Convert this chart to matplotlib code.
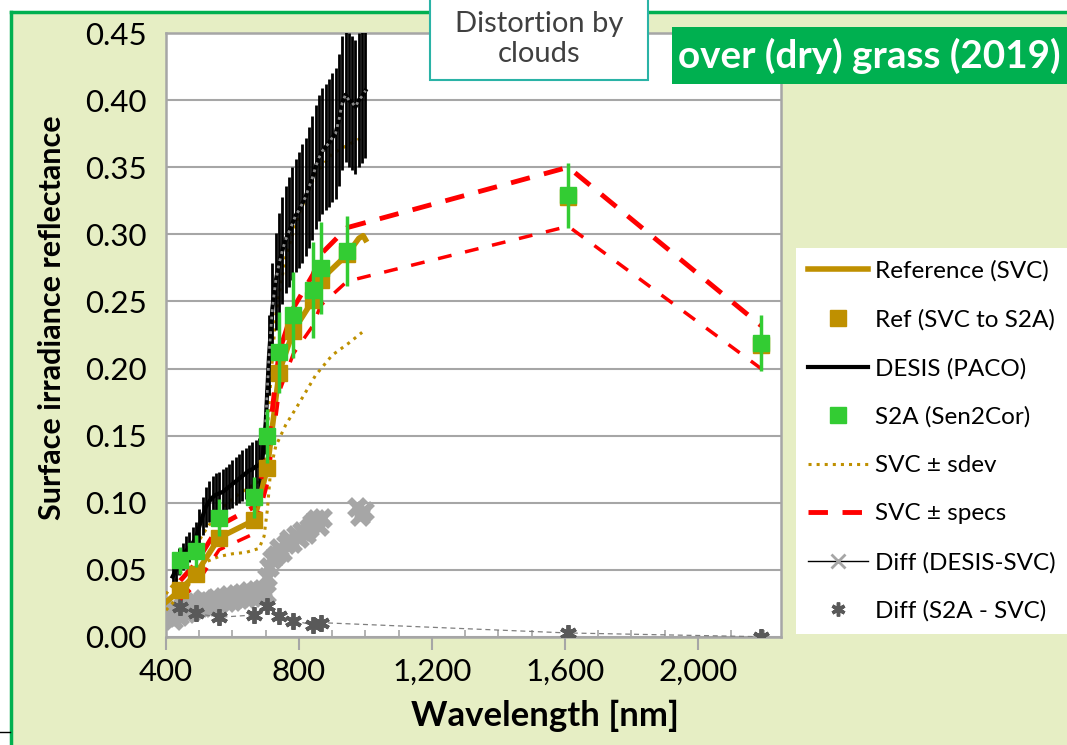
import matplotlib
matplotlib.use('Agg')
import matplotlib.pyplot as plt
from matplotlib.lines import Line2D
from matplotlib.patches import Rectangle
from matplotlib.ticker import MultipleLocator, FuncFormatter

plt.rcParams['font.family'] = ['Lato', 'DejaVu Sans']

# SVC reference spectrum (field measurement)
svc_wl = [400, 443, 490, 560, 665, 705, 740, 783, 842, 865, 945, 980, 993, 1000]
svc_refl = [0.026, 0.035, 0.047, 0.074, 0.087, 0.126, 0.197, 0.228, 0.251, 0.266, 0.285, 0.297, 0.299, 0.296]

# SVC +/- standard deviation
sdev_wl = [400, 430, 460, 490, 520, 560, 600, 640, 680, 695, 705, 715, 730, 760, 800, 850, 900, 950, 990]
sdev_hi = [0.032, 0.042, 0.055, 0.068, 0.080, 0.094, 0.103, 0.110, 0.116, 0.130, 0.155, 0.190, 0.240, 0.283, 0.315, 0.345, 0.360, 0.367, 0.372]
sdev_lo = [0.020, 0.028, 0.036, 0.046, 0.056, 0.060, 0.062, 0.063, 0.066, 0.075, 0.095, 0.125, 0.142, 0.158, 0.174, 0.195, 0.210, 0.219, 0.227]

# Sentinel-2A bands
s2a_wl = [443, 490, 560, 665, 705, 740, 783, 842, 865, 945, 1610, 2190]
ref_s2a = [0.035, 0.047, 0.074, 0.087, 0.126, 0.197, 0.228, 0.251, 0.266, 0.285, 0.328, 0.2175]
s2a_refl = [0.057, 0.064, 0.089, 0.104, 0.150, 0.212, 0.240, 0.2585, 0.275, 0.2875, 0.329, 0.219]
s2a_err = [0.010, 0.012, 0.014, 0.015, 0.020, 0.030, 0.032, 0.036, 0.034, 0.026, 0.024, 0.021]
spec_hi = [0.042, 0.055, 0.083, 0.097, 0.138, 0.212, 0.245, 0.270, 0.285, 0.305, 0.350, 0.232]
spec_lo = [0.028, 0.039, 0.065, 0.077, 0.114, 0.182, 0.211, 0.232, 0.247, 0.265, 0.306, 0.200]

diff_s2a_wl = [443, 490, 560, 665, 705, 740, 783, 842, 865, 1610, 2190]
diff_s2a = [0.0226, 0.0176, 0.0147, 0.0164, 0.0231, 0.0156, 0.0122, 0.0090, 0.0107, 0.0030, 0.0002]

# DESIS (PACO), binned to 10 nm
desis_wl = [420, 430, 440, 450, 460, 470, 480, 490, 500, 510, 520, 530, 540, 550, 560,
            570, 580, 590, 600, 610, 620, 630, 640, 650, 660, 670, 680, 690, 700, 710,
            720, 730, 740, 750, 760, 770, 780, 790, 800, 810, 820, 830, 840, 850, 860,
            870, 880, 890, 900, 910, 920, 930, 940, 950, 960, 970, 980, 990, 1000]
desis_refl = [0.045, 0.050, 0.056, 0.060, 0.064, 0.067, 0.070, 0.074, 0.082, 0.090, 0.097, 0.101, 0.104, 0.106, 0.107,
              0.108, 0.110, 0.112, 0.114, 0.116, 0.118, 0.120, 0.122, 0.124, 0.125, 0.127, 0.128, 0.132, 0.160, 0.210,
              0.245, 0.265, 0.278, 0.288, 0.296, 0.302, 0.308, 0.314, 0.318, 0.323, 0.328, 0.335, 0.342, 0.350, 0.357,
              0.362, 0.365, 0.368, 0.372, 0.375, 0.385, 0.398, 0.404, 0.400, 0.398, 0.395, 0.400, 0.403, 0.407]
desis_err = [0.008, 0.009, 0.010, 0.010, 0.011, 0.011, 0.012, 0.012, 0.013, 0.014, 0.015, 0.015, 0.016, 0.016, 0.016,
             0.017, 0.017, 0.017, 0.018, 0.018, 0.018, 0.019, 0.019, 0.019, 0.020, 0.020, 0.020, 0.021, 0.024, 0.030,
             0.034, 0.036, 0.038, 0.040, 0.040, 0.041, 0.042, 0.042, 0.043, 0.044, 0.044, 0.045, 0.046, 0.046, 0.047,
             0.047, 0.047, 0.048, 0.048, 0.049, 0.049, 0.050, 0.050, 0.050, 0.050, 0.050, 0.050, 0.050, 0.050]

# |DESIS - SVC|
diff_desis_wl = [400, 410, 420, 430, 440, 450, 460, 470, 480, 490, 500, 510, 520, 530, 540, 550,
                 560, 570, 580, 590, 600, 610, 620, 630, 640, 650, 660, 670, 680, 690, 700,
                 705, 710, 720, 730, 740, 750, 760, 770, 780, 790, 800, 810, 820, 830, 840, 850,
                 860, 870, 975, 985, 995]
diff_desis = [0.015, 0.019, 0.013, 0.021, 0.016, 0.023, 0.018, 0.025, 0.020, 0.026, 0.022, 0.028, 0.023, 0.027, 0.022, 0.029,
              0.025, 0.030, 0.026, 0.031, 0.027, 0.032, 0.028, 0.033, 0.029, 0.034, 0.030, 0.035, 0.031, 0.036, 0.032,
              0.045, 0.052, 0.058, 0.061, 0.066, 0.063, 0.069, 0.073, 0.070, 0.076, 0.074, 0.079, 0.077, 0.081, 0.085, 0.088,
              0.083, 0.089, 0.097, 0.090, 0.094]

gold = '#BF9000'
green = '#33CC33'
bg = '#E6EEC4'

fig = plt.figure(figsize=(10.67, 7.45), dpi=100, facecolor='white')
W, H = 1067, 745

def fx(px):
    return px / W

def fy(py):
    return 1 - py / H

fig.patches.append(Rectangle((fx(11), 0), 1, fy(12), transform=fig.transFigure, fc=bg, ec='none', zorder=-10))
fig.add_artist(Line2D([fx(11), fx(11)], [0, fy(12)], color='#00B050', lw=2.5, zorder=-5))
fig.add_artist(Line2D([fx(11), 1], [fy(12), fy(12)], color='#00B050', lw=2.5, zorder=-5))
fig.add_artist(Line2D([0, fx(10)], [fy(732), fy(732)], color='black', lw=1))

ax = fig.add_axes([fx(166), fy(637), fx(781 - 166), (637 - 33) / H])
ax.set_facecolor('white')

ax.plot(diff_desis_wl, diff_desis, ls='none', marker='x', ms=12, mew=5, color='#A6A6A6', zorder=2)
ax.plot(diff_s2a_wl, diff_s2a, ls=(0, (4, 3)), lw=0.9, color='#7F7F7F', marker=(6, 2, 0), ms=12, mew=2.8,
        mec='#595959', zorder=3)

ax.plot(sdev_wl, sdev_hi, ls=':', lw=2.2, color=gold, zorder=4)
ax.plot(sdev_wl, sdev_lo, ls=':', lw=2.2, color=gold, zorder=4)

ax.errorbar(desis_wl, desis_refl, yerr=desis_err, fmt='none', ecolor='black', elinewidth=2, capsize=0, zorder=5)
ax.plot(desis_wl, desis_refl, color='black', lw=3, zorder=6)
ax.plot(desis_wl[28:], desis_refl[28:], ls=':', lw=2, color='#8C8C8C', zorder=6)

ax.plot(svc_wl, svc_refl, color=gold, lw=4, zorder=7)
ax.plot(s2a_wl, spec_hi, color='#FF0000', lw=3.5, ls=(0, (4, 3)), zorder=8)
ax.plot(s2a_wl, spec_lo, color='#FF0000', lw=2.5, ls=(0, (4, 4)), zorder=8)
ax.plot(s2a_wl, ref_s2a, ls='none', marker='s', ms=11, color=gold, zorder=9)
ax.errorbar(s2a_wl, s2a_refl, yerr=s2a_err, fmt='s', ms=11, color=green, ecolor=green, elinewidth=2.5,
            capsize=0, zorder=10)

ax.set_xlim(400, 2250)
ax.set_ylim(0, 0.45)
ax.xaxis.set_major_locator(MultipleLocator(400))
ax.xaxis.set_minor_locator(MultipleLocator(100))
ax.yaxis.set_major_locator(MultipleLocator(0.05))
ax.xaxis.set_major_formatter(FuncFormatter(lambda v, p: '{:,.0f}'.format(v)))
ax.yaxis.set_major_formatter(FuncFormatter(lambda v, p: '{:.2f}'.format(v)))
ax.grid(axis='y', color='#A6A6A6', lw=1.5)
ax.set_axisbelow(True)
for s in ax.spines.values():
    s.set_color('#A6A6A6')
    s.set_linewidth(1.8)
ax.tick_params(axis='y', length=0, pad=14, labelsize=22.5)
ax.tick_params(axis='x', which='major', direction='out', length=9, width=1.5, color='#A6A6A6', pad=6, labelsize=22.5)
ax.tick_params(axis='x', which='minor', direction='in', length=5, width=1.2, color='#A6A6A6')

fig.text(fx(52), fy(318), 'Surface irradiance reflectance', rotation=90, ha='center', va='center',
         fontsize=22, fontweight='bold')
fig.text(fx(545), fy(716), 'Wavelength [nm]', ha='center', va='center', fontsize=25, fontweight='bold')

# annotation boxes
fig.patches.append(Rectangle((fx(430), fy(80)), fx(648 - 430), 80 / H + 0.02, transform=fig.transFigure,
                             fc='white', ec='#2AB3A6', lw=1.5, zorder=5))
fig.text(fx(539), fy(39), 'Distortion by\nclouds', ha='center', va='center', fontsize=21, color='#404040',
         linespacing=1.15, zorder=6)
fig.patches.append(Rectangle((fx(672), fy(84)), 1, (84 - 27) / H, transform=fig.transFigure,
                             fc='#00B050', ec='none', zorder=5))
fig.text(fx(678), fy(56), 'over (dry) grass (2019)', ha='left', va='center', fontsize=27.8, fontweight='bold',
         color='white', zorder=6)

handles = [
    Line2D([], [], color=gold, lw=4),
    Line2D([], [], ls='none', marker='s', ms=11, color=gold),
    Line2D([], [], color='black', lw=3),
    Line2D([], [], ls='none', marker='s', ms=11, color=green),
    Line2D([], [], color=gold, lw=2.2, ls=':'),
    Line2D([], [], color='#FF0000', lw=3.5, ls=(0, (4, 3))),
    Line2D([], [], color='black', lw=1, marker='x', ms=10, mew=2, mec='#A6A6A6'),
    Line2D([], [], ls='none', marker=(6, 2, 0), ms=10, mew=2.5, mec='#595959'),
]
labels = ['Reference (SVC)', 'Ref (SVC to S2A)', 'DESIS (PACO)', 'S2A (Sen2Cor)', 'SVC \u00b1 sdev',
          'SVC \u00b1 specs', 'Diff (DESIS-SVC)', 'Diff (S2A - SVC)']
leg = fig.legend(handles, labels, loc='upper left', bbox_to_anchor=(fx(796), fy(248)), fontsize=17.5,
                 frameon=True, fancybox=False, facecolor='white', edgecolor='none', framealpha=1,
                 handlelength=2.45, handletextpad=0.3, labelspacing=1.12, borderpad=0.5, borderaxespad=0)

fig.savefig('out.png', dpi=100, facecolor=fig.get_facecolor())
